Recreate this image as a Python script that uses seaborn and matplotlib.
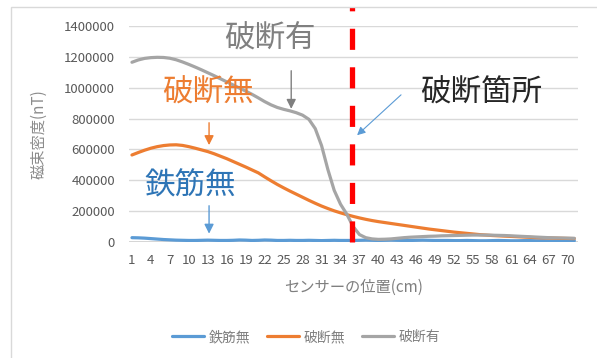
import numpy as np
import pandas as pd
import matplotlib
matplotlib.use("Agg")
import matplotlib.pyplot as plt
from matplotlib.lines import Line2D
from matplotlib.patches import Rectangle
import seaborn as sns

# ---------------- data ----------------
positions = list(range(1, 72))  # sensor position (cm)

tekkin_nashi = [28, 27, 25, 22, 19, 16, 14, 12, 11, 10, 10, 11, 12, 11, 10, 10, 11, 13, 12, 10,
                11, 13, 12, 10, 10, 11, 10, 10, 11, 10, 9, 10, 11, 10, 10, 10, 11, 12, 11, 10,
                11, 12, 11, 10, 10, 11, 12, 11, 10, 10, 10, 9, 9, 10, 9, 8, 8, 9, 10, 9,
                8, 8, 9, 9, 8, 8, 7, 7, 8, 8, 8]
hadan_nashi = [564, 580, 595, 608, 618, 625, 629, 630, 626, 618, 608, 597, 586, 572, 556, 540, 522, 504, 486, 467,
               448, 422, 397, 373, 351, 330, 310, 290, 270, 251, 233, 217, 202, 189, 177, 166, 156, 147, 139, 132,
               126, 120, 114, 108, 102, 96, 90, 84, 79, 74, 69, 64, 60, 56, 52, 48, 45, 42, 40, 38,
               36, 34, 32, 30, 28, 27, 26, 25, 24, 23, 22]
hadan_ari = [1165, 1180, 1190, 1195, 1197, 1196, 1191, 1181, 1167, 1151, 1134, 1116, 1097, 1078, 1058, 1038, 1018, 998, 978, 957,
             934, 910, 889, 872, 860, 850, 838, 822, 795, 735, 625, 470, 335, 245, 180, 100, 48, 28, 20, 17,
             18, 20, 24, 28, 31, 33, 35, 37, 38, 40, 41, 42, 43, 44, 45, 45, 45, 44, 43, 42,
             40, 38, 36, 34, 32, 30, 28, 27, 26, 25, 24]

series_names = ["鉄筋無", "破断無", "破断有"]
series_colors = ["#5b9bd5", "#ed7d31", "#a5a5a5"]
x_tick_labels = list(range(1, 71, 3))
y_ticks = [0, 200000, 400000, 600000, 800000, 1000000, 1200000, 1400000]
break_position = 35.8  # location of the break (red dashed line)

# ---------------- figure ----------------
sns.set_theme(style="white")
plt.rcParams["font.family"] = ["Noto Sans CJK JP", "DejaVu Sans"]

W, H = 597, 358
fig = plt.figure(figsize=(W / 100, H / 100), dpi=100)
ax = fig.add_axes([128.8 / W, 1 - 242 / H, (577.5 - 128.8) / W, (242 - 26) / H])

frames = []
for name, vals in zip(series_names, [tekkin_nashi, hadan_nashi, hadan_ari]):
    frames.append(pd.DataFrame({"pos": positions, "value": np.array(vals) * 1000, "series": name}))
df = pd.concat(frames, ignore_index=True)

sns.lineplot(data=df, x="pos", y="value", hue="series", hue_order=series_names,
             palette=series_colors, linewidth=2.3, legend=False, ax=ax, zorder=3)

ax.set_xlim(0.5, 71.5)
ax.set_ylim(0, 1400000)
ax.set_yticks(y_ticks)
ax.set_yticklabels([str(v) for v in y_ticks])
ax.set_xticks(x_tick_labels)
ax.set_xticklabels([str(v) for v in x_tick_labels])
ax.tick_params(axis="both", length=0, labelsize=9.5, labelcolor="#595959")
ax.tick_params(axis="y", pad=10)
ax.tick_params(axis="x", pad=9)
for s in ax.spines.values():
    s.set_visible(False)
ax.grid(axis="y", color="#d9d9d9", linewidth=1.0)
ax.grid(axis="x", visible=False)
ax.axhline(0, color="#d0d0d0", linewidth=1.2, zorder=2)

ax.set_xlabel("センサーの位置(cm)", fontsize=11, color="#7f7f7f", labelpad=8)
ax.set_ylabel("磁束密度(nT)", fontsize=11, color="#8c8c8c", labelpad=12)

# red dashed line marking the break
ax.plot([break_position, break_position], [0, 1523000], color="#ff0000", linewidth=3.8,
        linestyle=(0, (4.0, 3.3)), clip_on=False, zorder=4)

# annotations
ann_fs = 22
ax.annotate("破断有", xy=(22.9, 1318000), ha="center", va="center", fontsize=ann_fs, color="#808080",
            annotation_clip=False)
ax.annotate("", xy=(26.2, 845000), xytext=(26.2, 1128000),
            arrowprops=dict(arrowstyle="-|>", color="#7f7f7f", lw=1.0, mutation_scale=14))
ax.annotate("破断無", xy=(13.0, 962000), ha="center", va="center", fontsize=ann_fs, color="#ed7d31")
ax.annotate("", xy=(13.2, 610000), xytext=(13.2, 791000),
            arrowprops=dict(arrowstyle="-|>", color="#ed7d31", lw=1.0, mutation_scale=14))
ax.annotate("鉄筋無", xy=(10.2, 365000), ha="center", va="center", fontsize=ann_fs, color="#2e75b6")
ax.annotate("", xy=(13.2, 36000), xytext=(13.2, 253000),
            arrowprops=dict(arrowstyle="-|>", color="#5b9bd5", lw=1.0, mutation_scale=14))
ax.annotate("破断箇所", xy=(56.2, 968000), ha="center", va="center", fontsize=ann_fs, color="#262626")
ax.annotate("", xy=(36.3, 680000), xytext=(43.9, 966000),
            arrowprops=dict(arrowstyle="-|>", color="#5b9bd5", lw=0.8, mutation_scale=12))

# legend
handles = [Line2D([0], [0], color=c, linewidth=2.3) for c in series_colors]
leg = fig.legend(handles, series_names, loc="center", bbox_to_anchor=(306 / W, 1 - 337 / H),
                 ncol=3, frameon=False, fontsize=10, handlelength=2.3, handletextpad=0.35,
                 columnspacing=1.2)
for t in leg.get_texts():
    t.set_color("#7f7f7f")

# outer chart frame
fig.patches.append(Rectangle((10.5 / W, -0.1), 1.2, 1.1 - 7 / H, transform=fig.transFigure,
                             fill=False, edgecolor="#d9d9d9", linewidth=1.0))

fig.savefig("out.png", dpi=100)
